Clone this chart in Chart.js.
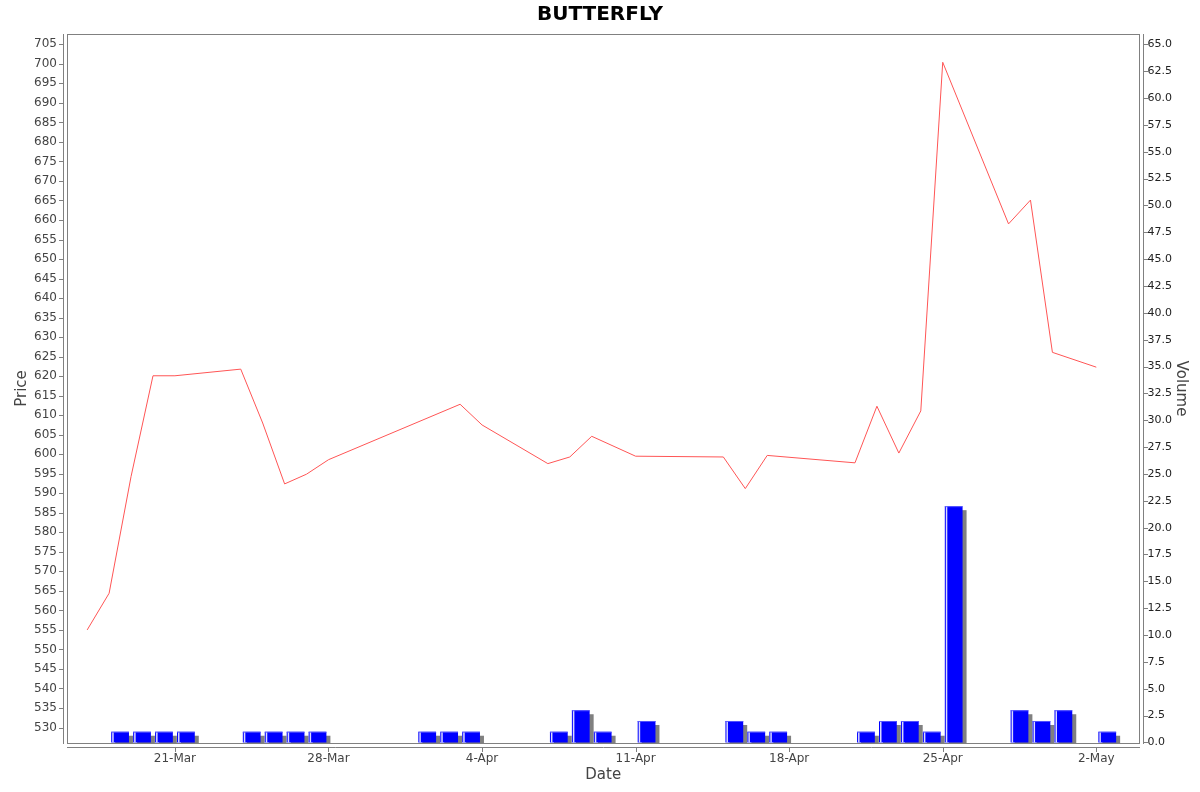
<!DOCTYPE html>
<html>
<head>
<meta charset="utf-8">
<title>BUTTERFLY</title>
<script src="https://cdn.jsdelivr.net/npm/chart.js@4.4.0/dist/chart.umd.min.js"></script>
<style>
  html, body { margin: 0; padding: 0; background: #fff; }
  #chart { display: block; }
</style>
</head>
<body>
<canvas id="chart" width="1200" height="792"></canvas>
<script>
// day numbers are counted from 28-Feb (1-Mar = 1, 1-Apr = 32, 1-May = 62)
const priceDays = [17, 18, 19, 20, 21, 24, 25, 26, 27, 28, 34, 35, 38, 39, 40, 42, 46, 47, 48, 52, 53, 54, 55, 56, 59, 60, 61, 63];
const prices = [555.0, 564.4, 594.3, 620.1, 620.1, 621.8, 608.0, 592.4, 594.9, 598.6, 612.8, 607.5, 597.6, 599.3, 604.6, 599.5, 599.3, 591.2, 599.7, 597.8, 612.3, 600.3, 611.1, 700.4, 659.0, 665.1, 626.1, 622.3];

const volumeDays = [18, 19, 20, 21, 24, 25, 26, 27, 32, 33, 34, 38, 39, 40, 42, 46, 47, 48, 52, 53, 54, 55, 56, 59, 60, 61, 63];
const volumes = [1, 1, 1, 1, 1, 1, 1, 1, 1, 1, 1, 1, 3, 1, 2, 2, 1, 1, 1, 2, 2, 1, 22, 3, 2, 3, 1];

const dateTicks = [21, 28, 35, 42, 49, 56, 63];
const dateLabels = ['21-Mar', '28-Mar', '4-Apr', '11-Apr', '18-Apr', '25-Apr', '2-May'];

const priceTicks = [];
for (let v = 530; v <= 705; v += 5) priceTicks.push(v);
const volumeTicks = [];
for (let v = 0; v <= 65; v += 2.5) volumeTicks.push(v);

Chart.defaults.font.family = 'DejaVu Sans';

// gray shadow behind bars, highlight edge on top, and the detached axis lines
const jfreeLook = {
  id: 'jfreeLook',
  beforeDatasetDraw(chart, args) {
    if (args.meta.type !== 'bar') return;
    const { ctx, chartArea: a } = chart;
    ctx.save();
    ctx.beginPath();
    ctx.rect(a.left, a.top, a.right - a.left, a.bottom - a.top);
    ctx.clip();
    ctx.fillStyle = '#808080';
    args.meta.data.forEach(el => {
      const p = el.getProps(['x', 'y', 'base', 'width'], true);
      ctx.fillRect(p.x - p.width / 2 + 4, p.y + 4, p.width, p.base - p.y);
    });
    ctx.restore();
  },
  afterDatasetDraw(chart, args) {
    if (args.meta.type !== 'bar') return;
    const ctx = chart.ctx;
    ctx.save();
    args.meta.data.forEach(el => {
      const p = el.getProps(['x', 'y', 'base', 'width'], true);
      const left = p.x - p.width / 2;
      ctx.fillStyle = 'rgba(230,230,255,0.95)';
      ctx.fillRect(left + 1, p.y, 1.5, p.base - p.y);
      ctx.fillStyle = 'rgba(90,90,255,0.9)';
      ctx.fillRect(left, p.y, p.width, 1);
    });
    ctx.restore();
  },
  afterDraw(chart) {
    const { ctx, chartArea: a, scales } = chart;
    const L = Math.round(a.left), R = Math.round(a.right), T = Math.round(a.top), B = Math.round(a.bottom);
    ctx.save();
    ctx.strokeStyle = '#808080';
    ctx.lineWidth = 1;
    ctx.strokeRect(L + 0.5, T + 0.5, R - L - 1, B - T);
    ctx.beginPath();
    // left price axis
    ctx.moveTo(L - 3.5, T); ctx.lineTo(L - 3.5, B + 1);
    scales.y.ticks.forEach(t => {
      const py = Math.round(scales.y.getPixelForValue(t.value)) + 0.5;
      ctx.moveTo(L - 8, py); ctx.lineTo(L - 3.5, py);
    });
    // right volume axis
    ctx.moveTo(R + 3.5, T); ctx.lineTo(R + 3.5, B + 1);
    scales.y1.ticks.forEach(t => {
      const py = Math.round(scales.y1.getPixelForValue(t.value)) + 0.5;
      ctx.moveTo(R + 3.5, py); ctx.lineTo(R + 8, py);
    });
    // bottom date axis
    ctx.moveTo(L, B + 4.5); ctx.lineTo(R, B + 4.5);
    scales.x.ticks.forEach(t => {
      const px = Math.round(scales.x.getPixelForValue(t.value)) + 0.5;
      ctx.moveTo(px, B + 4.5); ctx.lineTo(px, B + 9);
    });
    ctx.stroke();
    ctx.restore();
  }
};

new Chart(document.getElementById('chart'), {
  type: 'line',
  data: {
    datasets: [
      {
        type: 'line',
        label: 'Price',
        data: priceDays.map((d, i) => ({ x: d, y: prices[i] })),
        yAxisID: 'y',
        borderColor: '#ff5555',
        borderWidth: 1,
        pointRadius: 0,
        tension: 0,
        order: 1
      },
      {
        type: 'bar',
        label: 'Volume',
        // a bar covers its whole trading day, so it sits at the middle of it
        data: volumeDays.map((d, i) => ({ x: d + 0.5, y: volumes[i] })),
        yAxisID: 'y1',
        backgroundColor: '#0000ff',
        borderWidth: 0,
        barPercentage: 0.81,
        categoryPercentage: 1,
        order: 2
      }
    ]
  },
  options: {
    responsive: false,
    devicePixelRatio: 1,
    animation: false,
    layout: { padding: 0 },
    plugins: {
      legend: { display: false },
      tooltip: { enabled: false },
      title: {
        display: true,
        text: 'BUTTERFLY',
        color: '#000',
        font: { size: 20, weight: 'bold' },
        padding: { top: 3, bottom: 7 }
      }
    },
    scales: {
      x: {
        type: 'linear',
        position: 'bottom',
        min: 16.08,
        max: 64.97,
        offset: false,
        grid: { display: false, drawTicks: false },
        border: { display: false },
        afterBuildTicks: s => { s.ticks = dateTicks.map(v => ({ value: v })); },
        afterFit: s => { s.height = 49; },
        ticks: {
          padding: 9,
          autoSkip: false,
          maxRotation: 0,
          color: '#444',
          font: { size: 12 },
          callback: (v, i) => dateLabels[i]
        },
        title: {
          display: true,
          text: 'Date',
          color: '#444',
          font: { size: 15 },
          padding: { top: 0, bottom: 8 }
        }
      },
      y: {
        type: 'linear',
        position: 'left',
        min: 526.04,
        max: 707.64,
        grid: { display: false, drawTicks: false },
        border: { display: false },
        afterBuildTicks: s => { s.ticks = priceTicks.map(v => ({ value: v })); },
        afterFit: s => { s.width = 67; },
        ticks: {
          padding: 10,
          autoSkip: false,
          color: '#444',
          font: { size: 12 },
          callback: v => String(v)
        },
        title: {
          display: true,
          text: 'Price',
          color: '#444',
          font: { size: 15 },
          padding: { top: 13, bottom: 0 }
        }
      },
      y1: {
        type: 'linear',
        position: 'right',
        min: -0.05,
        max: 65.96,
        grid: { display: false, drawTicks: false },
        border: { display: false },
        afterBuildTicks: s => { s.ticks = volumeTicks.map(v => ({ value: v })); },
        afterFit: s => { s.width = 60.5; },
        ticks: {
          padding: 8,
          autoSkip: false,
          color: '#222',
          font: { size: 11 },
          callback: v => v.toFixed(1)
        },
        title: {
          display: true,
          text: 'Volume',
          color: '#444',
          font: { size: 15 },
          padding: { top: 10, bottom: 0 }
        }
      }
    }
  },
  plugins: [jfreeLook]
});
</script>
</body>
</html>
